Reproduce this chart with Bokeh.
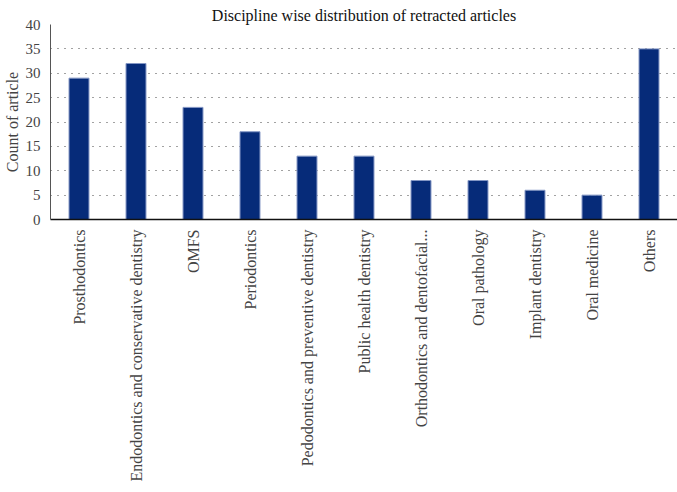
import math
from bokeh.plotting import figure
from bokeh.models import FactorRange, Range1d, ColumnDataSource, SingleIntervalTicker
from bokeh.embed import file_html
from bokeh.resources import INLINE

categories = ["Prosthodontics", "Endodontics and conservative dentistry", "OMFS",
              "Periodontics", "Pedodontics and preventive dentistry", "Public health dentistry",
              "Orthodontics and dentofacial...", "Oral pathology", "Implant dentistry",
              "Oral medicine", "Others"]
counts = [29, 32, 23, 18, 13, 13, 8, 8, 6, 5, 35]

FONT = "Liberation Serif"

src = ColumnDataSource(dict(cat=categories, val=counts))

p = figure(frame_width=627, frame_height=195, output_backend="svg", toolbar_location=None,
           x_range=FactorRange(*categories, range_padding=0), y_range=Range1d(0, 40),
           title="Discipline wise distribution of retracted articles",
           min_border_left=42, min_border_right=0, min_border_top=24, min_border_bottom=262)

p.vbar(x="cat", top="val", width=0.35, source=src, fill_color="#062b79",
       line_color="#8396c4", line_width=1)

p.title.align = "center"
p.title.text_font = FONT
p.title.text_font_size = "16px"
p.title.text_font_style = "normal"
p.title.text_color = "#111111"
p.title.standoff = 2

p.outline_line_color = None
p.background_fill_color = "white"

p.xgrid.grid_line_color = None
p.ygrid.grid_line_color = "#444444"
p.ygrid.grid_line_dash = "1 6"
p.ygrid.grid_line_width = 1

p.yaxis.ticker = SingleIntervalTicker(interval=5)
p.yaxis.axis_label = "Count of article"
p.yaxis.axis_label_text_font = FONT
p.yaxis.axis_label_text_font_size = "16px"
p.yaxis.axis_label_text_font_style = "normal"
p.yaxis.axis_label_standoff = 2
p.yaxis.major_label_text_font = FONT
p.yaxis.major_label_text_font_size = "15px"
p.yaxis.major_tick_line_color = None
p.yaxis.minor_tick_line_color = None
p.yaxis.axis_line_color = "#555555"
p.yaxis.major_label_standoff = 4

p.xaxis.major_label_orientation = math.pi / 2
p.xaxis.major_label_text_font = FONT
p.xaxis.major_label_text_font_size = "16px"
p.xaxis.major_tick_line_color = None
p.xaxis.axis_line_color = "#111111"
p.xaxis.axis_line_width = 1.5
p.xaxis.major_label_standoff = 4

open("out.html", "w").write(file_html(p, INLINE))
